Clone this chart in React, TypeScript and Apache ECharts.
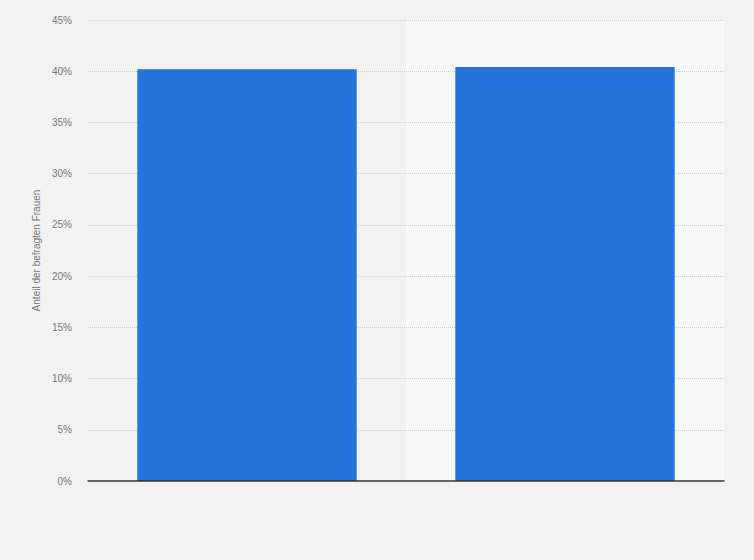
import React, { useEffect, useRef } from 'react';
import * as echarts from 'echarts';

const categories = ['Gruppe 1', 'Gruppe 2'];
const shares = [40.2, 40.4];
const yTicks = { min: 0, max: 45, interval: 5 };

const App: React.FC = () => {
  const chartRef = useRef<HTMLDivElement>(null);

  useEffect(() => {
    document.body.style.margin = '0';
    if (!chartRef.current) return;
    const chart = echarts.init(chartRef.current, undefined, { renderer: 'svg' });

    const option: echarts.EChartsOption = {
      animation: false,
      backgroundColor: '#f2f2f2',
      textStyle: { fontFamily: 'Liberation Sans, Arial, sans-serif' },
      grid: { left: 88, right: 30, top: 20, bottom: 79 },
      xAxis: [
        {
          // bands in the background
          type: 'category',
          data: categories,
          z: 0,
          axisLabel: { show: false },
          axisTick: { show: false },
          axisLine: { show: false },
          splitArea: {
            show: true,
            areaStyle: { color: ['rgba(0,0,0,0)', '#f8f8f8'] },
          },
        },
        {
          // baseline drawn over the bars
          type: 'category',
          data: categories,
          position: 'bottom',
          z: 5,
          axisLabel: { show: false },
          axisTick: { show: false },
          axisLine: { lineStyle: { color: '#333', width: 1.5 } },
        },
      ],
      yAxis: {
        type: 'value',
        z: 1,
        min: yTicks.min,
        max: yTicks.max,
        interval: yTicks.interval,
        name: 'Anteil der befragten Frauen',
        nameLocation: 'middle',
        nameGap: 44,
        nameTextStyle: { color: '#777', fontSize: 10 },
        axisLine: { show: false },
        axisTick: { show: false },
        axisLabel: {
          formatter: '{value}%',
          color: '#777',
          fontSize: 10,
          margin: 16,
        },
        splitLine: {
          showMinLine: false,
          lineStyle: { type: 'dotted', color: '#cccccc', width: 1 },
        },
      },
      series: [
        {
          type: 'bar',
          z: 2,
          xAxisIndex: 0,
          data: shares,
          barCategoryGap: '31%',
          itemStyle: { color: '#2574db' },
        },
      ],
    };

    chart.setOption(option);
    return () => {
      chart.dispose();
    };
  }, []);

  return <div ref={chartRef} style={{ width: '754px', height: '560px' }} />;
};

export default App;
